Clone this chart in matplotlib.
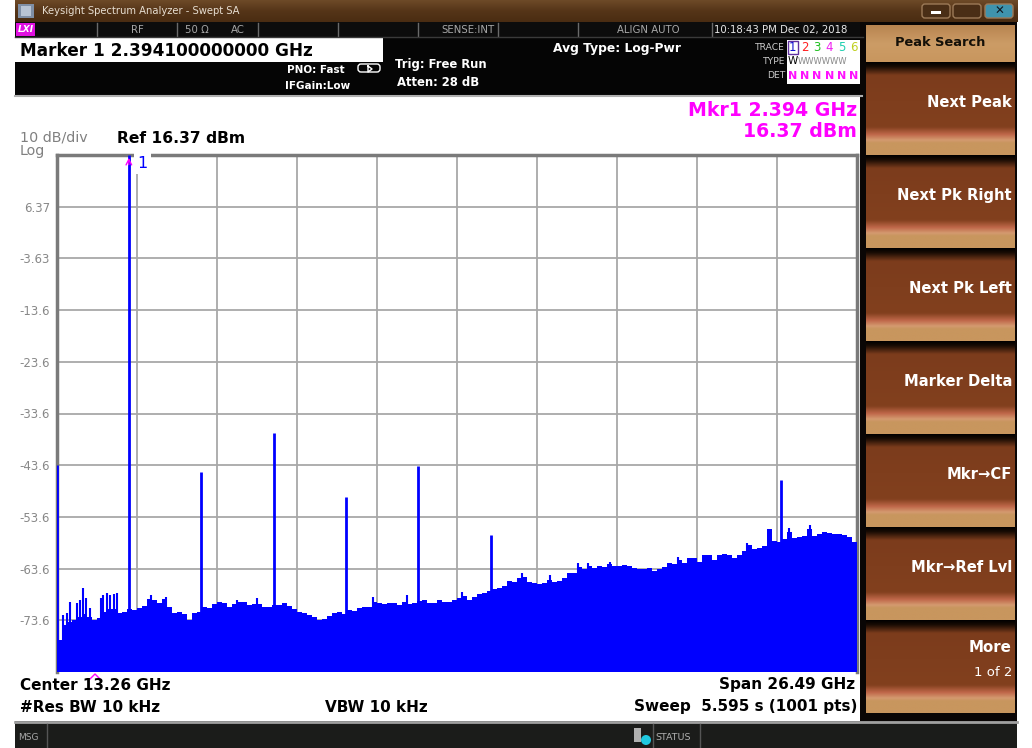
import numpy as np
import matplotlib.pyplot as plt
from matplotlib.patches import Rectangle, FancyBboxPatch, Circle
from matplotlib.colors import LinearSegmentedColormap

plt.rcParams['font.family'] = ['DejaVu Sans']

# sweep settings
center_ghz = 13.26
span_ghz = 26.49
ref_dbm = 16.37
db_div = 10

# noise floor, one value per 1/160 of the span (dBm)
floor_db = [
    -77.5, -74.5, -74.0, -73.5, -73.0, -72.5, -73.0, -73.5, -73.2, -72.0,
    -71.5, -71.5, -72.2, -72.0, -71.5, -71.6, -71.2, -70.9, -69.5, -69.8,
    -70.3, -69.5, -71.0, -72.2, -72.0, -72.5, -73.5, -72.3, -72.0, -71.0,
    -71.3, -70.5, -70.0, -70.3, -71.0, -70.5, -70.0, -70.0, -70.6, -70.5,
    -70.5, -71.0, -71.0, -70.6, -70.6, -70.3, -70.8, -71.5, -72.0, -72.3,
    -72.6, -73.0, -73.5, -73.3, -72.8, -72.2, -72.0, -72.5, -71.6, -71.8,
    -71.2, -71.0, -71.0, -70.0, -70.3, -70.5, -70.2, -70.3, -70.6, -70.0,
    -70.4, -70.3, -69.9, -69.7, -70.2, -70.2, -69.8, -70.1, -70.0, -69.7,
    -69.3, -69.0, -69.8, -69.2, -68.5, -68.4, -68.0, -67.5, -67.3, -67.0,
    -66.0, -66.2, -65.5, -65.2, -66.2, -66.5, -66.6, -66.5, -65.8, -66.3,
    -66.0, -65.5, -64.5, -64.5, -63.3, -63.8, -63.2, -63.6, -63.2, -63.4,
    -62.8, -63.1, -63.2, -63.0, -63.2, -63.5, -63.7, -63.8, -63.5, -64.0,
    -63.8, -63.3, -62.5, -62.7, -62.0, -62.5, -61.5, -61.5, -62.3, -61.0,
    -61.0, -62.0, -61.0, -60.8, -61.0, -61.5, -61.0, -60.3, -59.0, -59.8,
    -59.6, -59.2, -56.0, -58.2, -58.5, -58.0, -56.5, -57.8, -57.6, -57.4,
    -56.0, -57.3, -57.0, -56.6, -56.8, -57.0, -57.0, -57.2, -57.5, -58.5,
]

# narrow noise spikes sticking out of the floor
grass_ghz = [0.224, 0.336, 0.445, 0.667, 0.777, 0.866, 0.975, 1.108,
             1.462, 1.548, 1.681, 1.770, 1.902, 1.992, 3.118, 3.624,
             5.965, 6.630, 10.49, 11.59, 13.42, 15.40, 16.34, 17.28,
             17.61, 18.33, 20.58, 22.86, 24.25, 24.95]
grass_dbm = [-72.6, -72.2, -70.1, -70.3, -69.7, -67.4, -69.3, -71.3,
             -69.3, -68.7, -68.4, -68.7, -68.6, -68.4, -68.7, -69.1,
             -69.7, -69.3, -69.1, -68.7, -68.2, -64.5, -64.9, -62.5,
             -62.5, -62.4, -61.4, -58.7, -55.8, -55.2]

# discrete spurs / harmonics
spur_ghz = [0.015, 2.394, 4.78, 7.20, 9.60, 11.98, 14.40, 24.00]
spur_dbm = [-43.6, 16.37, -44.9, -37.4, -49.8, -43.8, -57.1, -46.5]

mkr_ghz = 2.394
mkr_dbm = 16.37

ytick_labels = ['', '6.37', '-3.63', '-13.6', '-23.6', '-33.6', '-43.6',
                '-53.6', '-63.6', '-73.6', '']
softkeys = ['Next Peak', 'Next Pk Right', 'Next Pk Left', 'Marker Delta',
            'Mkr\u2192CF', 'Mkr\u2192Ref Lvl', 'More']

W, H = 1032, 748
fig = plt.figure(figsize=(W / 100, H / 100), dpi=100)
fig.patch.set_facecolor('white')

bg = fig.add_axes([0, 0, 1, 1])
bg.axis('off')


def box(x0, y0, x1, y1, color, **kw):
    bg.add_patch(Rectangle((x0, y0), x1 - x0, y1 - y0, facecolor=color, lw=0, **kw))


def grad(x0, y0, x1, y1, stops):
    cm = LinearSegmentedColormap.from_list('g', stops)
    bg.imshow(np.linspace(0, 1, 256).reshape(-1, 1), cmap=cm, aspect='auto',
              extent=(x0, x1, y1, y0), interpolation='bilinear', zorder=1)


def txt(x, y, s, size=9, color='white', weight='bold', ha='left', **kw):
    bg.text(x, y, s, fontsize=size, color=color, fontweight=weight, ha=ha,
            va='center', zorder=3, **kw)


# window frame + title bar
grad(15, 0, 1018, 22, ['#6e4a28', '#553518', '#4a2c12'])
box(18, 4, 34, 18, '#7f8fa6')
box(21, 6, 31, 16, '#b8c4d4')
txt(42, 11, 'Keysight Spectrum Analyzer - Swept SA', size=7.2, color='#e6ddd0', weight='normal')
for x0, fc in [(922, '#4a2e16'), (953, '#4a2e16'), (985, '#3f93ad')]:
    bg.add_patch(FancyBboxPatch((x0, 4), 28, 14, boxstyle='round,pad=0,rounding_size=3',
                                fc=fc, ec='#9c7a58', lw=1))
box(931, 11, 941, 13.5, 'white')
box(962, 7, 972, 13, 'none', edgecolor='white', linewidth=1)
box(965, 10, 975, 16, '#4a2e16', edgecolor='white', linewidth=1)
txt(999, 11, '\u2715', size=8.5, color='#101820', ha='center')

# header (black)
box(15, 22, 863, 95, '#050505')
box(15, 22, 863, 37, '#0c0c0c')
for xs in [97, 177, 258, 338, 418, 498, 578, 712]:
    bg.plot([xs, xs], [23, 36], color='#6a6a6a', lw=1)
bg.plot([15, 863], [37, 37], color='#3a3a3a', lw=1)
box(16, 23, 35, 36, '#e010e0')
txt(25.5, 29.5, 'LXI', size=6.5, color='white', ha='center', style='italic')
txt(137, 29.5, 'RF', size=7.3, color='#a8a8a8', weight='normal', ha='center')
txt(185, 29.5, '50 \u03a9', size=7.3, color='#a8a8a8', weight='normal')
txt(231, 29.5, 'AC', size=7.3, color='#a8a8a8', weight='normal')
txt(495, 29.5, 'SENSE:INT', size=7.3, color='#a8a8a8', weight='normal', ha='right')
txt(648, 29.5, 'ALIGN AUTO', size=7.3, color='#a8a8a8', weight='normal', ha='center')
txt(714, 29.5, '10:18:43 PM Dec 02, 2018', size=7.3, color='#e8e8e8', weight='normal')

box(15, 38, 383, 62, 'white')
txt(20, 50.5, 'Marker 1 2.394100000000 GHz', size=12.2, color='black')
txt(345, 70, 'PNO: Fast', size=7.5, ha='right')
txt(350, 86, 'IFGain:Low', size=7.5, ha='right')
bg.add_patch(FancyBboxPatch((358, 64), 22, 8, boxstyle='round,pad=0,rounding_size=3',
                            fc='none', ec='white', lw=1))
bg.plot([368, 368, 372, 368], [66, 72, 69, 66], color='white', lw=1)
txt(395, 64, 'Trig: Free Run', size=8.4)
txt(397, 82, 'Atten: 28 dB', size=8.4)
txt(553, 48, 'Avg Type: Log-Pwr', size=8.8)

# trace table
for y, lab in [(47, 'TRACE'), (61, 'TYPE'), (75, 'DET')]:
    txt(785, y, lab, size=6.6, color='#c8c8c8', weight='normal', ha='right')
box(787, 40, 861, 84, 'white')
trace_cols = ['#1010d0', '#ff2020', '#20c020', '#f020f0', '#20d0b0', '#c0d020']
for k, c in enumerate(trace_cols):
    xk = 792.5 + k * 12.3
    txt(xk, 47, str(k + 1), size=8.5, color=c, weight='normal', ha='center')
    txt(xk, 75.5, 'N', size=8, color='#ff10ff', ha='center')
bg.add_patch(Rectangle((787.5, 40.5), 10, 13, fc='none', ec='#6030a0', lw=1))
txt(792.5, 61, 'W', size=7.5, color='black', weight='normal', ha='center')
txt(798, 61, 'WWWWWW', size=6, color='#888888', weight='normal')

# white screen area
box(15, 95, 862, 721, 'white')
bg.plot([15, 862], [95.5, 95.5], color='#b0b0b0', lw=1.5)
txt(20, 137, '10 dB/div', size=10.3, color='#808080', weight='normal')
txt(20, 151, 'Log', size=10.3, color='#808080', weight='normal')
txt(117, 138, 'Ref 16.37 dBm', size=11.2, color='black')
txt(857, 110, 'Mkr1 2.394 GHz', size=13.6, color='#ff00ff', ha='right')
txt(857, 131, '16.37 dBm', size=13.6, color='#ff00ff', ha='right')
txt(20, 685, 'Center 13.26 GHz', size=11, color='black')
txt(20, 707, '#Res BW 10 kHz', size=11, color='black')
txt(325, 707, 'VBW 10 kHz', size=11, color='black')
txt(855, 685, 'Span 26.49 GHz', size=11, color='black', ha='right')
txt(857, 707, 'Sweep  5.595 s (1001 pts)', size=11, color='black', ha='right')
bg.plot([90, 95, 100], [679, 674, 679], color='#ff00ff', lw=1)

# softkey panel
box(860, 22, 1017, 721, '#0a0605')
grad(866, 25, 1015, 62, ['#b88450', '#cc9c66', '#c8965e'])
txt(940.5, 42, 'Peak Search', size=9.4, color='#141008', ha='center')
btn_stops = [(0.0, '#000000'), (0.05, '#1a0c04'), (0.14, '#7c3c1c'),
             (0.70, '#82401e'), (0.78, '#c0684a'), (0.84, '#d49a70'),
             (0.87, '#c8965e'), (1.0, '#c8965e')]
for k, lab in enumerate(softkeys):
    y0 = 62 + k * 93
    grad(866, y0, 1015, y0 + 93, btn_stops)
    if lab == 'More':
        txt(1012, y0 + 27, lab, size=10.8, ha='right')
        txt(1012, y0 + 52, '1 of 2', size=9.5, weight='normal', ha='right')
    else:
        txt(1012, y0 + 40, lab, size=10.6, ha='right')

# status bar
box(15, 721, 1017, 748, '#1b1c1a')
bg.plot([15, 1017], [722, 722], color='#a0a0a0', lw=2)
txt(18, 737, 'MSG', size=6.5, color='#a8a8a8', weight='normal')
for xs in [47, 653, 700]:
    bg.plot([xs, xs], [724, 748], color='#555555', lw=1)
box(634, 728, 641, 742, '#b0b0b0')
bg.add_patch(Circle((646, 740), 5, fc='#20c8e0', ec='none'))
txt(655, 737, 'STATUS', size=6.8, color='#b0b0b0', weight='normal')

bg.set_xlim(0, W)
bg.set_ylim(H, 0)

# ---- spectrum display ----
start = center_ghz - span_ghz / 2
stop = center_ghz + span_ghz / 2
ybot = ref_dbm - 10 * db_div

ax = fig.add_axes([57 / W, (H - 672) / H, 800 / W, 517 / H])
ax.set_facecolor('white')
ax.set_xlim(start, stop)
ax.set_ylim(ybot, ref_dbm)
ax.set_xticks(np.linspace(start, stop, 11))
ax.set_yticks([ref_dbm - db_div * k for k in range(11)])
ax.set_xticklabels([])
ax.set_yticklabels(ytick_labels)
ax.tick_params(length=0, labelsize=8.5, labelcolor='#888888', pad=5)
ax.grid(True, color='#a8a8a8', lw=1.3)
ax.set_axisbelow(True)
for s in ['left', 'top', 'right']:
    ax.spines[s].set_color('#7a7a7a')
    ax.spines[s].set_linewidth(2.5)
ax.spines['bottom'].set_visible(False)

edges = np.linspace(start, stop, len(floor_db) + 1)
ax.stairs(floor_db, edges, baseline=ybot, fill=True, color='#0000ff', zorder=3)
ax.vlines(grass_ghz, ybot, grass_dbm, color='#0000ff', lw=1.5, zorder=3)
ax.vlines(spur_ghz, ybot, spur_dbm, color='#0000ff', lw=2.0, zorder=3)

ax.annotate('', xy=(mkr_ghz, mkr_dbm), xytext=(mkr_ghz, mkr_dbm - 2.4),
            arrowprops=dict(arrowstyle='->', color='#ff00ff', lw=1),
            annotation_clip=False, zorder=5)
ax.text(mkr_ghz + 0.28, mkr_dbm - 0.25, '1', color='#0000ff', fontsize=11.5,
        va='top', ha='left', clip_on=False, zorder=5,
        bbox=dict(fc='white', ec='none', pad=2.2))

fig.savefig('out.png', dpi=100)
